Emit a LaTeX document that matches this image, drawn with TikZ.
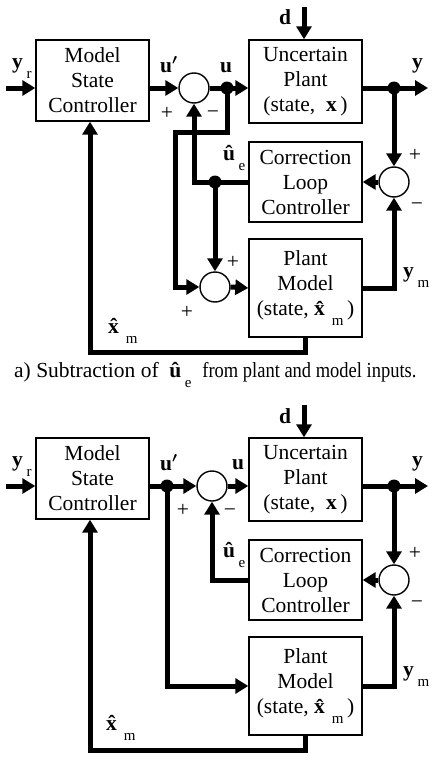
\documentclass[tikz,border=0pt]{standalone}
\usepackage{fontspec}
\setmainfont{Liberation Serif}
\usetikzlibrary{arrows.meta}
\newcommand\lsub[1]{\,\raisebox{-10pt}{\fontsize{15}{15}\selectfont #1}}
\newcommand\bhat[1]{\textbf{\^{#1}}}
\begin{document}
\begin{tikzpicture}[x=1pt,y=-1pt,
  font=\fontsize{21.5}{25}\selectfont,
  blk/.style={draw, line width=1.4pt, minimum width=113pt, align=center, inner sep=0pt},
  sumc/.style={draw, circle, line width=1.4pt, minimum size=30pt, inner sep=0pt},
  sig/.style={line width=5pt, -{Triangle[length=13pt,width=15pt]}},
  jdot/.style={circle, fill, minimum size=13pt, inner sep=0pt},
  lbl/.style={anchor=base west, inner sep=0pt},
  sgn/.style={inner sep=0pt},
]
\useasboundingbox (0,0) rectangle (434,768);

% ---------------- diagram a ----------------
\node[blk, minimum height=81pt] (msc) at (92.5,80.5) {Model\\State\\Controller};
\node[blk, minimum height=83pt] (up) at (305.5,81.5) {Uncertain\\Plant\\(state, \ \textbf{x}\,)};
\node[blk, minimum height=80pt] (clc) at (305.5,182) {Correction\\Loop\\Controller};
\node[blk, minimum height=98pt] (pm) at (305.5,288) {Plant\\Model\\(state, \bhat{x}\lsub{m}\,)};
\node[sumc] (s1) at (194,88) {};
\node[sumc] (s2) at (215,287) {};
\node[sumc] (s3) at (394,182) {};

\coordinate (yr) at (6,88);
\coordinate (din) at (304,7);
\coordinate (yo) at (428,88);
\coordinate (ud) at (227,88);
\coordinate (yd) at (394,88);
\coordinate (ued) at (215,182);
\coordinate (k1) at (227,132);
\coordinate (k2) at (175,132);
\coordinate (xm) at (90,352);

\draw[sig] (yr) -- (msc.west |- yr);
\draw[sig] (msc.east |- yr) -- (s1.west);
\draw[sig] (s1.east) -- (up.west |- yr);
\draw[sig] (din) -- (din |- up.north);
\draw[sig] (up.east |- yr) -- (yo);
\draw[sig] (yd) -- (s3.north);
\draw[sig] (s3.west) -- (clc.east |- s3);
\draw[sig] (pm.east) -| (s3.south);
\draw[sig] (clc.west) -| (s1.south);
\draw[sig] (ued) -- (s2.north);
\draw[sig] (ud) -- (k1) -- (k2) |- (s2.west);
\draw[sig] (s2.east) -- (pm.west);
\draw[sig] (pm.south) |- (xm) -- (xm |- msc.south);
\node[jdot] (j1) at (ud) {};
\node[jdot] (j2) at (yd) {};
\node[jdot] (j3) at (ued) {};

\node[lbl] (lyr) at (12,68) {\textbf{y}\lsub{r}};
\node[lbl] (lup) at (160,72) {\textbf{u}{\boldmath$'$}};
\node[lbl] (lu) at (220,72) {\textbf{u}};
\node[lbl] (ld) at (279,25) {\textbf{d}};
\node[lbl] (ly) at (412,68) {\textbf{y}};
\node[lbl] (lue) at (223,160) {\bhat{u}\lsub{e}};
\node[lbl] (lym) at (403,277) {\textbf{y}\lsub{m}};
\node[lbl] (lxm) at (108,333) {\bhat{x}\lsub{m}};
\node[sgn] (p1) at (167,113) {+};
\node[sgn] (m1) at (213,115) {−};
\node[sgn] (p2) at (233,262) {+};
\node[sgn] (p3) at (187,312) {+};
\node[sgn] (p4) at (415,155) {+};
\node[sgn] (m4) at (417,207) {−};

\node[lbl] (cap) at (14,377) {a) Subtraction of \ \bhat{u}\lsub{e} \ \scalebox{0.86}[1]{from plant and model inputs.}};

% ---------------- diagram b ----------------
\begin{scope}[yshift=-398pt]
\node[blk, minimum height=81pt] (mscb) at (92.5,80.5) {Model\\State\\Controller};
\node[blk, minimum height=83pt] (upb) at (305.5,81.5) {Uncertain\\Plant\\(state, \ \textbf{x}\,)};
\node[blk, minimum height=80pt] (clcb) at (305.5,182) {Correction\\Loop\\Controller};
\node[blk, minimum height=98pt] (pmb) at (305.5,288) {Plant\\Model\\(state, \bhat{x}\lsub{m}\,)};
\node[sumc] (s1b) at (212,88) {};
\node[sumc] (s3b) at (394,182) {};

\coordinate (yrb) at (6,88);
\coordinate (dinb) at (304,7);
\coordinate (yob) at (428,88);
\coordinate (udb) at (167,88);
\coordinate (ydb) at (394,88);
\coordinate (xmb) at (90,352);

\draw[sig] (yrb) -- (mscb.west |- yrb);
\draw[sig] (mscb.east |- yrb) -- (s1b.west);
\draw[sig] (s1b.east) -- (upb.west |- yrb);
\draw[sig] (dinb) -- (dinb |- upb.north);
\draw[sig] (upb.east |- yrb) -- (yob);
\draw[sig] (ydb) -- (s3b.north);
\draw[sig] (s3b.west) -- (clcb.east |- s3b);
\draw[sig] (pmb.east) -| (s3b.south);
\draw[sig] (clcb.west) -| (s1b.south);
\draw[sig] (udb) |- (pmb.west);
\draw[sig] (pmb.south) |- (xmb) -- (xmb |- mscb.south);
\node[jdot] (j1b) at (udb) {};
\node[jdot] (j2b) at (ydb) {};

\node[lbl] (lyrb) at (12,68) {\textbf{y}\lsub{r}};
\node[lbl] (lupb) at (160,72) {\textbf{u}{\boldmath$'$}};
\node[lbl] (lub) at (232,71) {\textbf{u}};
\node[lbl] (ldb) at (279,25) {\textbf{d}};
\node[lbl] (lyb) at (412,68) {\textbf{y}};
\node[lbl] (lueb) at (223,159) {\bhat{u}\lsub{e}};
\node[lbl] (lymb) at (403,278) {\textbf{y}\lsub{m}};
\node[lbl] (lxmb) at (106,332) {\bhat{x}\lsub{m}};
\node[sgn] (p1b) at (183,112) {+};
\node[sgn] (m1b) at (230,115) {−};
\node[sgn] (p4b) at (415,155) {+};
\node[sgn] (m4b) at (417,207) {−};
\end{scope}
\end{tikzpicture}
\end{document}
